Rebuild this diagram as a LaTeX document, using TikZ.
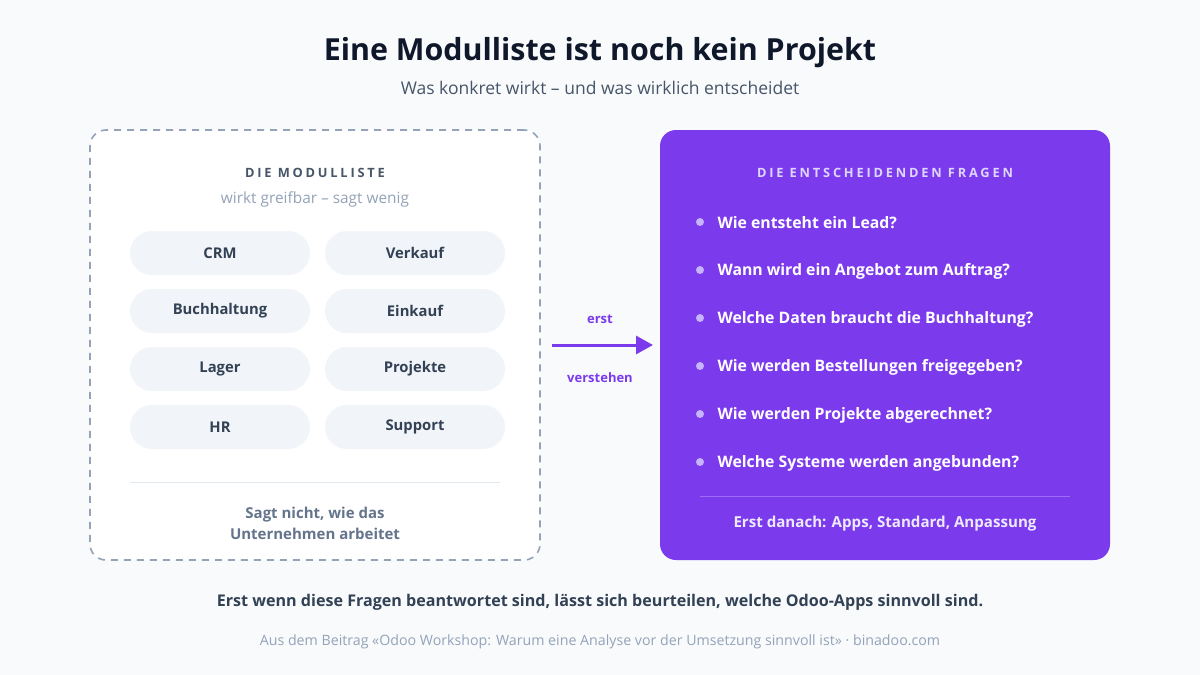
\documentclass[tikz,border=0pt]{standalone}
\usepackage{fontspec}
\setmainfont{Open Sans}
\newfontfamily\spacedfont[LetterSpace=22]{Open Sans}
\usetikzlibrary{arrows.meta}

\definecolor{pagebg}{HTML}{F8FAFC}
\definecolor{ink}{HTML}{0F172A}
\definecolor{slate}{HTML}{475569}
\definecolor{slatemid}{HTML}{64748B}
\definecolor{slatelight}{HTML}{94A3B8}
\definecolor{pillbg}{HTML}{F1F5F9}
\definecolor{pilltext}{HTML}{334155}
\definecolor{rulegray}{HTML}{E2E8F0}
\definecolor{violet}{HTML}{7C3AED}
\definecolor{violetdot}{HTML}{C4B5FD}
\definecolor{violethead}{HTML}{DDD6FE}
\definecolor{violetrule}{HTML}{9D6BF5}
\definecolor{violetnote}{HTML}{EDE9FE}

\begin{document}
\begin{tikzpicture}[x=1pt,y=-1pt,
    modbox/.style={draw=slatelight, line width=1.6pt, dash pattern=on 7pt off 6pt,
      fill=white, rounded corners=16pt, minimum width=450pt, minimum height=430pt},
    qbox/.style={fill=violet, rounded corners=16pt, minimum width=450pt, minimum height=430pt},
    pill/.style={fill=pillbg, rounded corners=22pt, minimum width=180pt, minimum height=44pt,
      text=pilltext, font=\fontsize{14.8}{18}\selectfont\bfseries},
    boxhead/.style={font=\spacedfont\fontsize{12.8}{15}\selectfont\bfseries},
    question/.style={anchor=west, text=white, font=\fontsize{15.8}{19}\selectfont\bfseries},
    qdot/.style={circle, fill=violetdot, inner sep=0pt, minimum size=8pt},
    arrowlabel/.style={text=violet, font=\fontsize{13}{16}\selectfont\bfseries}
  ]
  \fill[pagebg] (0,0) rectangle (1200,675);
  \useasboundingbox (0,0) rectangle (1200,675);

  % titel
  \node[text=ink, font=\fontsize{30.4}{36}\selectfont\bfseries] (title) at (600,53)
    {Eine Modulliste ist noch kein Projekt};
  \node[text=slate, font=\fontsize{17.5}{21}\selectfont] (subtitle) at (600,88)
    {Was konkret wirkt -- und was wirklich entscheidet};

  % linke box: module
  \node[modbox] (mods) at (315,345) {};
  \node[boxhead, text=slate] (modshead) at (315,173) {DIE MODULLISTE};
  \node[text=slatelight, font=\fontsize{15.4}{18}\selectfont] (modssub) at (315,199)
    {wirkt greifbar -- sagt wenig};
  \node[pill] (crm) at (220,253) {CRM};
  \node[pill] (sales) at (415,253) {Verkauf};
  \node[pill] (acc) at (220,311) {Buchhaltung};
  \node[pill] (buy) at (415,311) {Einkauf};
  \node[pill] (stock) at (220,369) {Lager};
  \node[pill] (proj) at (415,369) {Projekte};
  \node[pill] (hr) at (220,427) {HR};
  \node[pill] (help) at (415,427) {Support};
  \coordinate (modsruleL) at (130,482);
  \coordinate (modsruleR) at (500,482);
  \draw[rulegray, line width=1pt] (modsruleL) -- (modsruleR);
  \node[text=slatemid, align=center, font=\fontsize{15}{21}\selectfont\bfseries] (modsnote) at (315,523)
    {Sagt nicht, wie das\\Unternehmen arbeitet};

  % pfeil
  \coordinate (arrS) at (552,345);
  \coordinate (arrE) at (653,345);
  \draw[violet, line width=3pt, -{Triangle[length=17pt,width=18pt]}] (arrS) -- (arrE);
  \node[arrowlabel] (first) at (600,319) {erst};
  \node[arrowlabel] (understand) at (600,378) {verstehen};

  % rechte box: fragen
  \node[qbox] (quest) at (885,345) {};
  \node[boxhead, text=violethead] (questhead) at (885,173) {DIE ENTSCHEIDENDEN FRAGEN};
  \node[qdot] (d1) at (700,222) {};
  \node[question] (q1) at (714,223) {Wie entsteht ein Lead?};
  \node[qdot] (d2) at (700,270) {};
  \node[question] (q2) at (714,271) {Wann wird ein Angebot zum Auftrag?};
  \node[qdot] (d3) at (700,318) {};
  \node[question] (q3) at (714,319) {Welche Daten braucht die Buchhaltung?};
  \node[qdot] (d4) at (700,366) {};
  \node[question] (q4) at (714,367) {Wie werden Bestellungen freigegeben?};
  \node[qdot] (d5) at (700,414) {};
  \node[question] (q5) at (714,415) {Wie werden Projekte abgerechnet?};
  \node[qdot] (d6) at (700,462) {};
  \node[question] (q6) at (714,463) {Welche Systeme werden angebunden?};
  \coordinate (questruleL) at (700,496);
  \coordinate (questruleR) at (1070,496);
  \draw[violetrule, line width=1pt] (questruleL) -- (questruleR);
  \node[text=violetnote, font=\fontsize{15.1}{18}\selectfont\bfseries] (questnote) at (885,524)
    {Erst danach: Apps, Standard, Anpassung};

  % fusszeile
  \node[text=pilltext, font=\fontsize{16.1}{19}\selectfont\bfseries] (verdict) at (600,602)
    {Erst wenn diese Fragen beantwortet sind, lässt sich beurteilen, welche Odoo-Apps sinnvoll sind.};
  \node[text=slatelight, font=\fontsize{14.2}{17}\selectfont] (source) at (600,642)
    {Aus dem Beitrag «Odoo Workshop: Warum eine Analyse vor der Umsetzung sinnvoll ist» · binadoo.com};
\end{tikzpicture}
\end{document}
